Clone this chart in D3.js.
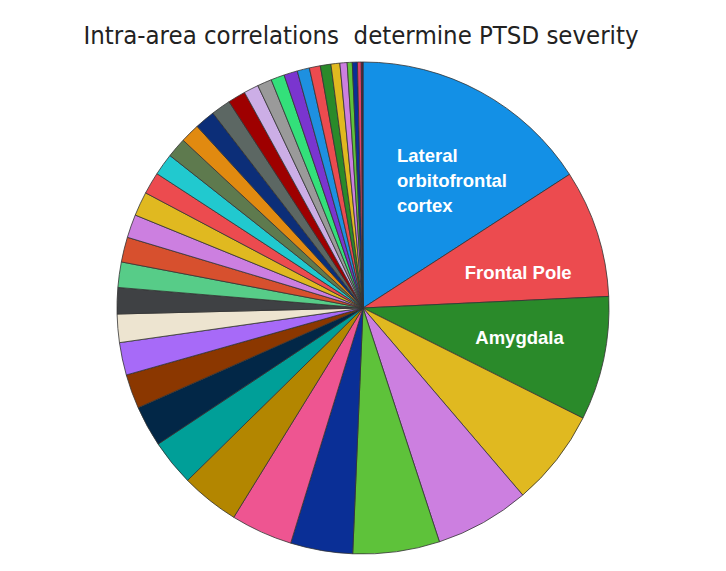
<!DOCTYPE html>
<html>
<head>
<meta charset="utf-8">
<script src="https://cdn.jsdelivr.net/npm/d3@7"></script>
<style>
  body { margin: 0; background: #fff; }
  svg { display: block; }
</style>
</head>
<body>
<svg></svg>
<script>
var width = 726,
    height = 571,
    cx = 363,
    cy = 308,
    radius = 246

var TITLE = "Intra-area correlations  determine PTSD severity"

// brain areas, in drawing order (clockwise from 12 o'clock); only the first three are named on the chart
var areas = ["Lateral orbitofrontal cortex", "Frontal Pole", "Amygdala"]
for (var i = areas.length; i < 39; i++) areas.push("Area " + (i + 1))

// share of each slice (in degrees of the circle)
var shares = [57.1, 30.2, 29.3, 22.9, 22.4, 20.5, 14.7, 14.6, 13.8, 10.9,
    9.7, 8.1, 7.7, 6.7, 6.2, 6.0, 5.9, 5.5, 5.7, 5.2,
    5.2, 4.7, 4.6, 4.8, 4.6, 4.2, 3.5, 3.4, 3.2, 3.2,
    2.9, 2.6, 2.5, 2.1, 1.7, 1.2, 1.2, 0.9, 0.4]

var colors = ["#1390e6", "#ec4b4f", "#2a8a2a", "#e0b920", "#cc7fe0", "#5ec23a", "#0a2f96", "#ee5591", "#b38600", "#009f98",
    "#022747", "#8b3700", "#a76af8", "#ede4d0", "#3f4144", "#57cc88", "#d7502e", "#cc7fe0", "#e0b920", "#ec4b4f",
    "#21c9cf", "#5e7a4e", "#e18a10", "#0c2e78", "#5c6763", "#9e0000", "#ccaee6", "#9a9a9a", "#33e07a", "#7a35cf",
    "#1e90e0", "#ec4b4f", "#2a8a2a", "#e0b920", "#cc7fe0", "#5ec23a", "#0a2f96", "#e0406a", "#5a1d40"]

var labelLines = [["Lateral", "orbitofrontal", "cortex"], ["Frontal Pole"], ["Amygdala"]]

document.addEventListener("DOMContentLoaded", function() {
    var data = areas.map(function(a, i) {
        return { area: a, share: shares[i], color: colors[i] }
    })
    drawChart(data)
})

function drawChart(data) {
    var canvas = d3.select("svg")
        .attr("width", width)
        .attr("height", height)

    canvas.append("text")
        .attr("x", 361)
        .attr("y", 44)
        .attr("text-anchor", "middle")
        .attr("font-family", "'DejaVu Sans', sans-serif")
        .attr("font-size", 24)
        .attr("fill", "#222")
        .attr("textLength", 555)
        .attr("lengthAdjust", "spacingAndGlyphs")
        .style("white-space", "pre")
        .text(TITLE)

    var pie = d3.pie().sort(null).value(function(d) { return d.share })
    var arc = d3.arc().innerRadius(0).outerRadius(radius)
    var arcs = pie(data)

    var g = canvas.append("g").attr("transform", "translate(" + cx + "," + cy + ")")

    g.selectAll(".slice")
        .data(arcs)
        .enter()
        .append("path")
        .attr("class", "slice")
        .attr("d", arc)
        .attr("fill", function(d) { return d.data.color })
        .attr("stroke", "#333")
        .attr("stroke-width", 0.8)
        .attr("stroke-linejoin", "round")

    // labels for the three largest areas, placed along each slice's middle angle, then nudged
    var labelRadius = [157, 163, 160]
    var nudge = [[-41, 10], [0, 14], [0, -4]]
    var lineH = 25
    labelLines.forEach(function(lines, i) {
        var a = arcs[i]
        var mid = (a.startAngle + a.endAngle) / 2
        var lx = Math.sin(mid) * labelRadius[i] + nudge[i][0]
        var ly = -Math.cos(mid) * labelRadius[i] + nudge[i][1]
        var t = g.append("text")
            .attr("font-family", "'Liberation Sans', sans-serif")
            .attr("font-weight", "bold")
            .attr("font-size", 18.5)
            .attr("fill", "#fff")
            .attr("text-anchor", i == 0 ? "start" : "middle")
        lines.forEach(function(line, j) {
            t.append("tspan")
                .attr("x", lx)
                .attr("y", ly + (j - (lines.length - 1) / 2) * lineH)
                .attr("dy", "0.35em")
                .text(line)
        })
    })
}
</script>
</body>
</html>
